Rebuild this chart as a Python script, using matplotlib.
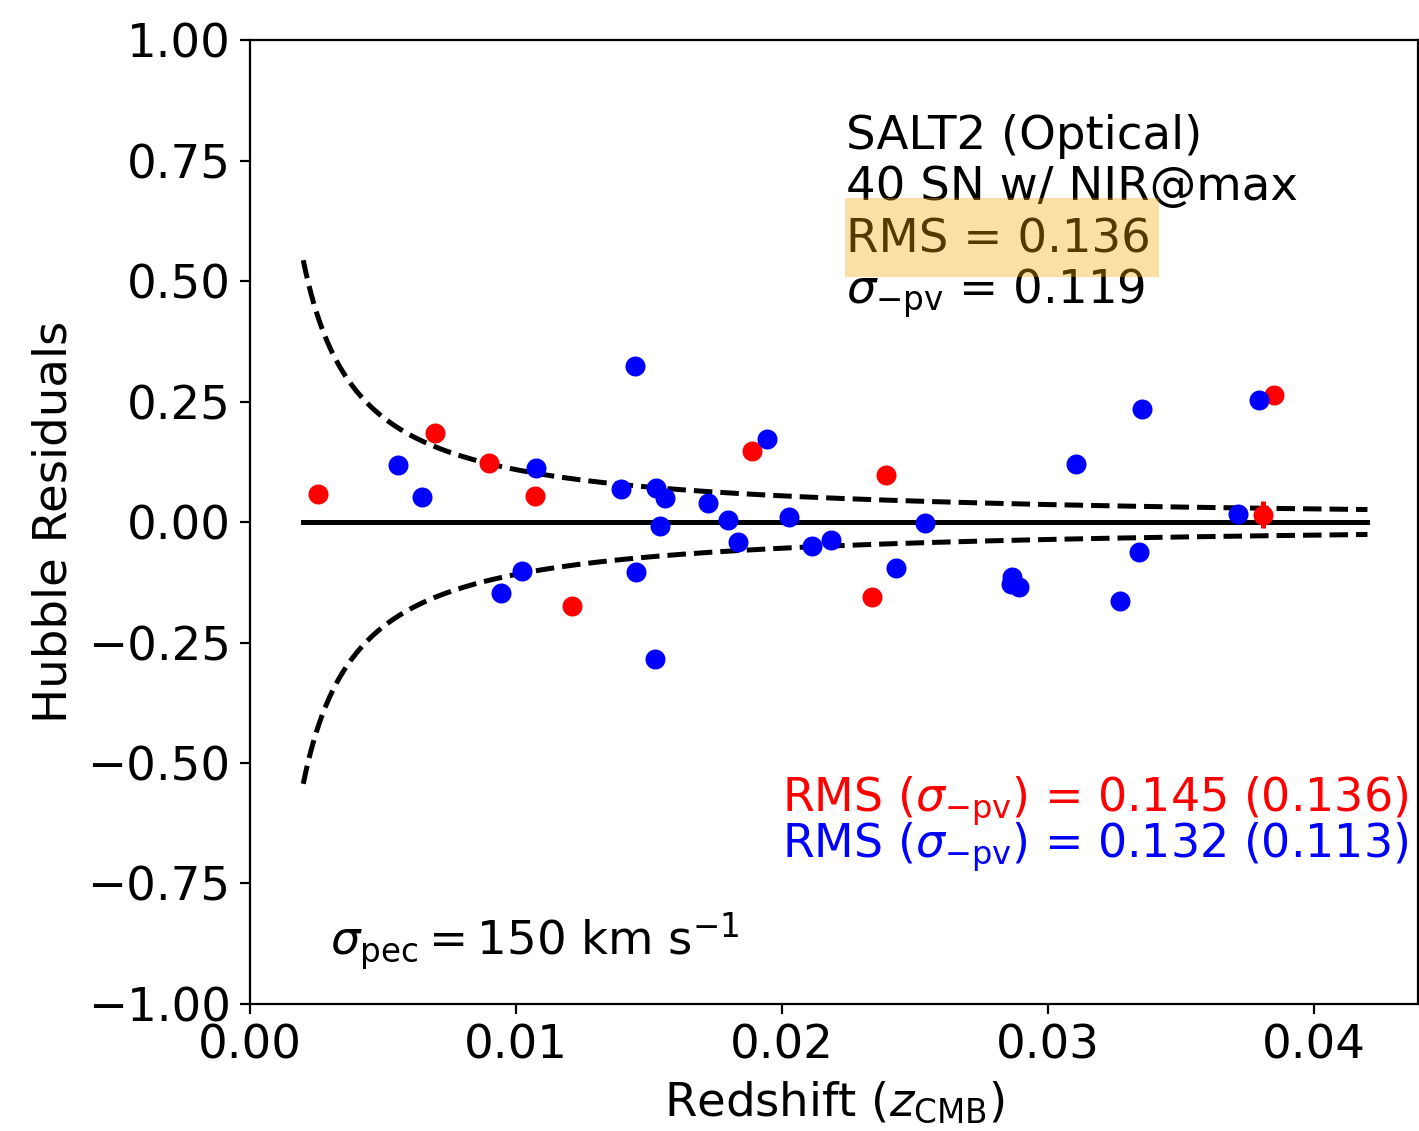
import numpy as np
import matplotlib
matplotlib.use("Agg")
import matplotlib.pyplot as plt
from matplotlib.patches import Rectangle

# ---- data ----
red_z = [0.00256, 0.00695, 0.00898, 0.01071, 0.01211, 0.01887, 0.02391, 0.02338, 0.03850, 0.03808]
red_r = [0.058, 0.185, 0.122, 0.054, -0.174, 0.147, 0.098, -0.156, 0.263, 0.015]
red_err_z = [0.03808]
red_err_r = [0.015]
red_err = [0.028]

blue_z = [0.00556, 0.00647, 0.01075, 0.01023, 0.00944, 0.01447, 0.01395, 0.01526, 0.01560,
          0.01541, 0.01451, 0.01523, 0.01944, 0.01722, 0.01797, 0.02026, 0.02538, 0.01835,
          0.02113, 0.02184, 0.02429, 0.03353, 0.03105, 0.03714, 0.03342, 0.02865, 0.02891,
          0.03271, 0.03793, 0.02861]
blue_r = [0.118, 0.052, 0.112, -0.102, -0.147, 0.324, 0.068, 0.071, 0.050,
          -0.008, -0.104, -0.284, 0.172, 0.039, 0.004, 0.010, -0.002, -0.041,
          -0.050, -0.037, -0.095, 0.234, 0.120, 0.017, -0.062, -0.114, -0.135,
          -0.164, 0.253, -0.129]

sigma_pec = 150.0           # km/s
c_kms = 299792.458
z_model = np.linspace(0.002, 0.042, 400)
sig_mu = 5.0 / np.log(10) * sigma_pec / (c_kms * z_model)

xticks = [0.00, 0.01, 0.02, 0.03, 0.04]
yticks = [-1.00, -0.75, -0.50, -0.25, 0.00, 0.25, 0.50, 0.75, 1.00]

# ---- figure ----
plt.rcParams['font.family'] = ['DejaVu Sans']
plt.rcParams['font.size'] = 16.8
fig = plt.figure(figsize=(7.095, 5.655), dpi=200)
ax = fig.add_axes([0.1762, 0.1123, 0.8231, 0.8523])

lw = 1.8
ax.plot([z_model[0], z_model[-1]], [0, 0], color='black', lw=lw, zorder=2)
ax.plot(z_model, sig_mu, color='black', lw=lw, ls='--', zorder=2)
ax.plot(z_model, -sig_mu, color='black', lw=lw, ls='--', zorder=2)

ax.plot(red_z, red_r, 'o', color='red', ms=7.2, zorder=3, markeredgewidth=0)
ax.errorbar(red_err_z, red_err_r, yerr=red_err, fmt='none', ecolor='red',
            elinewidth=lw, capsize=0, zorder=3)
ax.plot(blue_z, blue_r, 'o', color='blue', ms=7.2, zorder=4, markeredgewidth=0)

ax.set_xlim(0, 0.0439)
ax.set_ylim(-1, 1)
ax.set_xticks(xticks)
ax.set_xticklabels([f"{t:.2f}" for t in xticks])
ax.set_yticks(yticks)
ax.set_yticklabels([f"{t:.2f}".replace('-', '\u2212') for t in yticks])

ax.set_xlabel(r'Redshift ($z_{\rm CMB}$)')
ax.set_ylabel('Hubble Residuals')

# info text block
tx = 0.0224
ax.text(tx, 0.774, 'SALT2 (Optical)', va='baseline', ha='left')
ax.text(tx, 0.668, '40 SN w/ NIR@max', va='baseline', ha='left')
ax.text(tx, 0.560, 'RMS = 0.136', va='baseline', ha='left')
ax.text(tx, 0.454, r'$\sigma_{-\rm pv}$ = 0.119', va='baseline', ha='left')
ax.add_patch(Rectangle((0.02237, 0.508), 0.01180, 0.164, facecolor='#f5a800',
                       alpha=0.35, edgecolor='none', zorder=10))

ax.text(0.992, -0.600, r'RMS ($\sigma_{-\rm pv}$) = 0.145 (0.136)', color='red',
        ha='right', va='baseline', fontsize=16.5, transform=ax.get_yaxis_transform())
ax.text(0.992, -0.697, r'RMS ($\sigma_{-\rm pv}$) = 0.132 (0.113)', color='blue',
        ha='right', va='baseline', fontsize=16.5, transform=ax.get_yaxis_transform())

ax.text(0.0030, -0.898, r'$\sigma_{\rm pec} = 150$ km s$^{-1}$', ha='left', va='baseline')

fig.savefig('out.png', dpi=200)
